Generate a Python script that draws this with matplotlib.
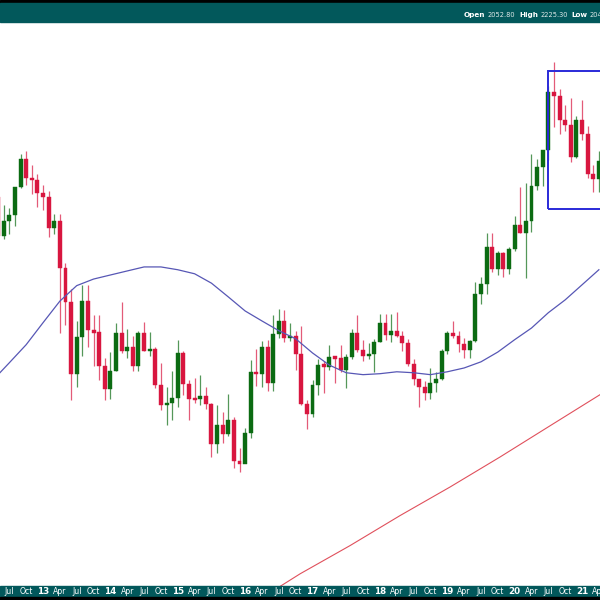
import matplotlib
matplotlib.use("Agg")
import matplotlib.pyplot as plt
from matplotlib.patches import Rectangle
import matplotlib.transforms as mtransforms

# Monthly OHLC, May 2012 .. Apr 2021 (month index 0 = Jan 2013)
start_index = -8
opens = [1664, 1558, 1598, 1614, 1691, 1773, 1719, 1712,
         1675, 1663, 1578, 1597, 1476, 1393, 1234, 1314, 1396, 1328, 1323, 1250,
         1202, 1240, 1321, 1283, 1291, 1250, 1322, 1282, 1287, 1210, 1171, 1175,
         1184, 1278, 1212, 1183, 1182, 1189, 1172, 1095, 1132, 1114, 1141, 1064,
         1060, 1116, 1237, 1233, 1290, 1215, 1320, 1349, 1311, 1315, 1275, 1173,
         1152, 1211, 1253, 1249, 1269, 1268, 1242, 1269, 1322, 1284, 1271, 1276,
         1303, 1345, 1318, 1327, 1315, 1299, 1254, 1223, 1207, 1195, 1215, 1222,
         1282, 1321, 1316, 1298, 1284, 1305, 1413, 1437, 1529, 1472, 1514, 1472,
         1523, 1587, 1566, 1596, 1694, 1751, 1800, 1986, 1973, 1895, 1879, 1780,
         1895, 1850, 1729, 1716]
highs = [1670, 1642, 1634, 1693, 1790, 1798, 1755, 1729,
         1697, 1680, 1617, 1616, 1487, 1424, 1348, 1434, 1434, 1362, 1362, 1268,
         1280, 1345, 1392, 1331, 1315, 1326, 1346, 1324, 1290, 1256, 1206, 1239,
         1307, 1283, 1220, 1225, 1232, 1206, 1175, 1170, 1157, 1192, 1146, 1088,
         1126, 1263, 1287, 1305, 1307, 1362, 1377, 1375, 1344, 1326, 1338, 1180,
         1220, 1264, 1261, 1296, 1271, 1296, 1276, 1331, 1362, 1306, 1300, 1309,
         1366, 1366, 1365, 1369, 1327, 1309, 1266, 1223, 1218, 1246, 1237, 1286,
         1326, 1349, 1326, 1310, 1306, 1442, 1453, 1566, 1566, 1518, 1517, 1528,
         1611, 1692, 1704, 1788, 1775, 1802, 2005, 2089, 1995, 1942, 1965, 1907,
         1959, 1875, 1755, 1798]
lows = [1527, 1550, 1563, 1585, 1690, 1697, 1672, 1636,
        1626, 1555, 1562, 1321, 1339, 1180, 1207, 1271, 1292, 1251, 1221, 1180,
        1182, 1239, 1277, 1268, 1240, 1240, 1282, 1272, 1204, 1160, 1131, 1142,
        1167, 1191, 1142, 1175, 1171, 1162, 1072, 1080, 1098, 1111, 1053, 1046,
        1061, 1107, 1208, 1206, 1199, 1199, 1310, 1302, 1305, 1241, 1171, 1124,
        1146, 1191, 1195, 1241, 1214, 1237, 1205, 1264, 1281, 1261, 1264, 1238,
        1302, 1307, 1303, 1312, 1282, 1250, 1211, 1167, 1180, 1182, 1197, 1221,
        1276, 1310, 1281, 1267, 1268, 1301, 1389, 1412, 1466, 1459, 1453, 1460,
        1518, 1564, 1450, 1568, 1684, 1695, 1772, 1873, 1849, 1860, 1765, 1776,
        1832, 1717, 1677, 1677]
closes = [1558, 1598, 1614, 1691, 1773, 1719, 1712, 1675,
          1663, 1578, 1597, 1476, 1393, 1234, 1314, 1396, 1328, 1323, 1250, 1202,
          1240, 1321, 1283, 1291, 1250, 1322, 1282, 1287, 1210, 1171, 1175, 1184,
          1278, 1212, 1183, 1182, 1189, 1172, 1095, 1132, 1114, 1141, 1064, 1060,
          1116, 1237, 1233, 1290, 1215, 1320, 1349, 1311, 1315, 1275, 1173, 1152,
          1211, 1253, 1249, 1269, 1268, 1242, 1269, 1322, 1284, 1271, 1276, 1303,
          1345, 1318, 1327, 1315, 1299, 1254, 1223, 1207, 1195, 1215, 1222, 1282,
          1321, 1316, 1298, 1284, 1305, 1413, 1437, 1529, 1472, 1514, 1472, 1523,
          1587, 1566, 1596, 1694, 1751, 1800, 1986, 1973, 1895, 1879, 1780, 1895,
          1850, 1729, 1716, 1769]

# Moving averages (month index, price)
ma_blue_x = [-8, -6, -3, 0, 3, 6, 9, 12, 15, 18, 21, 24, 27, 30, 33, 36, 39, 42,
             45, 48, 51, 54, 57, 60, 63, 66, 69, 72, 75, 78, 81, 84, 87, 90, 93, 96, 99]
ma_blue_y = [1232, 1257, 1296, 1345, 1395, 1432, 1448, 1458, 1468, 1478, 1478, 1471,
             1461, 1438, 1405, 1372, 1349, 1327, 1309, 1278, 1252, 1236, 1232, 1234,
             1238, 1236, 1232, 1238, 1246, 1259, 1280, 1307, 1333, 1368, 1398, 1434, 1471]
ma_red_x = [38, 45.8, 54.7, 63.6, 72.5, 81.4, 90.3, 99.2]
ma_red_y = [840, 880, 923, 971, 1019, 1072, 1130, 1191]

# Highlight box
box_start, box_low, box_high = 90, 1630, 2058

header_labels = ["Open", "High", "Low"]
header_values = ["2052.80", "2225.30", "2047.80"]

TEAL = "#02585b"
GREEN = "#0b6b12"
RED = "#d8163f"

fig = plt.figure(figsize=(6, 6), dpi=100)
fig.patch.set_facecolor("white")
ax = fig.add_axes([0, 14 / 600, 1, 563 / 600])
ax.set_yscale("log")
ax.set_xlim(-7.66, 99.2)
ax.set_ylim(862, 2232)
ax.axis("off")

n = len(opens)
xs = [start_index + k for k in range(n)]
for x, o, h, l, c in zip(xs, opens, highs, lows, closes):
    col = GREEN if c >= o else RED
    ax.vlines(x, l, h, color=col, lw=0.9, alpha=0.7, zorder=2)
    lo_b, hi_b = min(o, c), max(o, c)
    if hi_b / lo_b < 1.004:
        mid = (hi_b * lo_b) ** 0.5
        lo_b, hi_b = mid / 1.002, mid * 1.002
    ax.bar(x, hi_b - lo_b, bottom=lo_b, width=0.7, color=col, edgecolor=col,
           linewidth=0.3, zorder=3)

ax.plot(ma_blue_x, ma_blue_y, color="#5757b5", lw=0.9, zorder=4)
ax.plot(ma_red_x, ma_red_y, color="#e0505c", lw=0.8, zorder=4)

ax.add_patch(Rectangle((box_start, box_low), 15, box_high - box_low, fill=False,
                       edgecolor="#2a2ad8", lw=1.4, zorder=5))

# Header / footer bars
fig.patches.append(Rectangle((0, 597 / 600), 1, 3 / 600, transform=fig.transFigure,
                             color="black", zorder=0))
fig.patches.append(Rectangle((0, 578 / 600), 1, 19 / 600, transform=fig.transFigure,
                             color=TEAL, zorder=0))
fig.patches.append(Rectangle((0, 3 / 600), 1, 11 / 600, transform=fig.transFigure,
                             color=TEAL, zorder=0))
fig.patches.append(Rectangle((0, 0), 1, 3 / 600, transform=fig.transFigure,
                             color="black", zorder=0))

# Header text laid out left to right, measured so pieces never overlap
renderer = fig.canvas.get_renderer()
xp = 464.0
for lab, val in zip(header_labels, header_values):
    t = fig.text(xp / 600, 1 - 15 / 600, lab, color="white", fontsize=5.2,
                 fontweight="bold", va="center", ha="left")
    xp += t.get_window_extent(renderer).width + 2
    t = fig.text(xp / 600, 1 - 15 / 600, val, color="#dfe9e9", fontsize=4.8,
                 va="center", ha="left")
    xp += t.get_window_extent(renderer).width + 4

trans = mtransforms.blended_transform_factory(ax.transData, fig.transFigure)
month_names = {3: "Apr", 6: "Jul", 9: "Oct"}
for i in range(-6, 100, 3):
    m = i % 12
    if m == 0:
        label = "%02d" % (13 + i // 12)
        fw = "bold"
        fs = 6.3
    else:
        label = month_names[m]
        fw = "normal"
        fs = 5.6
    fig.text(i, 8.5 / 600, label, transform=trans, color="white", fontsize=fs,
             fontweight=fw, ha="center", va="center")

fig.savefig("out.png", dpi=100)
